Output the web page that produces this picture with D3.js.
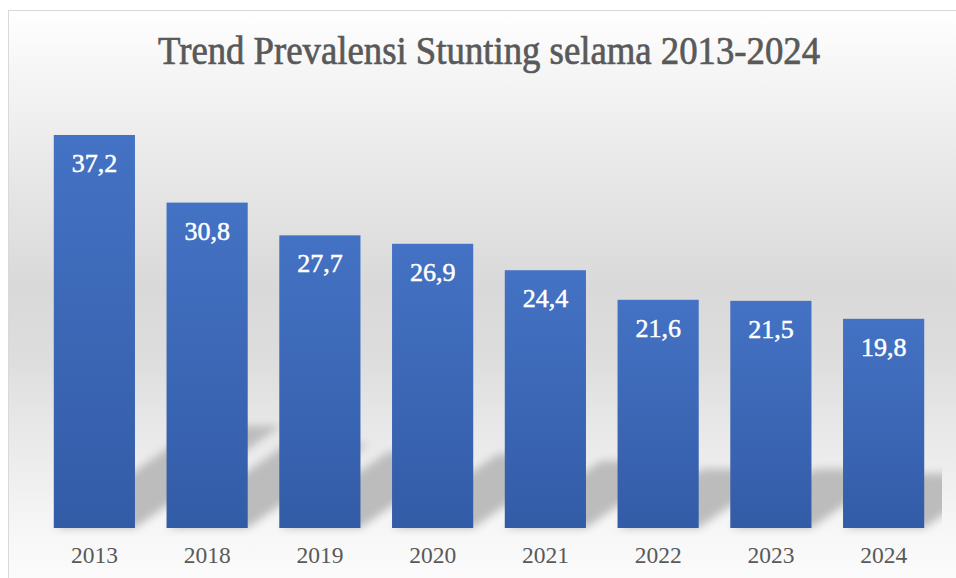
<!DOCTYPE html>
<html>
<head>
<meta charset="utf-8">
<script src="https://cdn.jsdelivr.net/npm/d3@7/dist/d3.min.js"></script>
<style>
  html, body { margin: 0; padding: 0; background: #fff; }
  svg { display: block; }
  .axis text { font-family: "Liberation Serif", serif; font-size: 23.5px; fill: #595959; }
  .axis path, .axis line { display: none; }
</style>
</head>
<body>
<div id="chart"></div>
<script>
// data
const years = ["2013", "2018", "2019", "2020", "2021", "2022", "2023", "2024"];
const values = [37.2, 30.8, 27.7, 26.9, 24.4, 21.6, 21.5, 19.8];
const title = "Trend Prevalensi Stunting selama 2013-2024";

const width = 956, height = 578;
const base = 528;

const svg = d3.select("#chart").append("svg")
  .attr("width", width)
  .attr("height", height);

const defs = svg.append("defs");

// chart background gradient (white - grey - white)
const bg = defs.append("linearGradient")
  .attr("id", "bg-grad")
  .attr("x1", 0).attr("y1", 0).attr("x2", 0).attr("y2", 1);
[[0, "#ffffff"], [0.1, "#f6f6f6"], [0.3, "#e6e6e6"], [0.48, "#d9d9d9"], [0.6, "#dddddd"],
 [0.7, "#e6e6e6"], [0.8, "#eeeeee"], [0.9, "#f7f7f7"], [1, "#fcfcfc"]]
  .forEach(s => bg.append("stop").attr("offset", s[0]).attr("stop-color", s[1]));

// bar gradient
const barGrad = defs.append("linearGradient")
  .attr("id", "bar-grad")
  .attr("x1", 0).attr("y1", 0).attr("x2", 0).attr("y2", 1);
barGrad.append("stop").attr("offset", 0).attr("stop-color", "#4472c4");
barGrad.append("stop").attr("offset", 1).attr("stop-color", "#335ca7");

defs.append("filter")
  .attr("id", "blur")
  .attr("x", "-20%").attr("y", "-20%").attr("width", "140%").attr("height", "140%")
  .append("feGaussianBlur")
  .attr("stdDeviation", 4);

defs.append("clipPath")
  .attr("id", "plot-clip")
  .append("rect")
  .attr("x", 8).attr("y", 10).attr("width", 934).attr("height", 560);

// chart area
svg.append("rect")
  .attr("x", 8.5).attr("y", 10.5)
  .attr("width", width).attr("height", height)
  .attr("fill", "url(#bg-grad)")
  .attr("stroke", "#d9d9d9")
  .attr("stroke-width", 1);

svg.append("text")
  .attr("x", 489)
  .attr("y", 64)
  .attr("text-anchor", "middle")
  .attr("textLength", 662)
  .attr("lengthAdjust", "spacingAndGlyphs")
  .style("font-family", "'Liberation Serif', serif")
  .style("font-size", "40px")
  .style("fill", "#595959")
  .style("stroke", "#595959")
  .style("stroke-width", 0.7)
  .text(title);

const x = d3.scaleBand()
  .domain(years)
  .range([38, 940])
  .paddingInner(0.28)
  .paddingOuter(0.14);

const y = d3.scaleLinear()
  .domain([0, 40])
  .range([base, base - 40 * 10.565]);

// perspective shadows
svg.append("g")
  .attr("clip-path", "url(#plot-clip)")
  .append("g")
  .attr("filter", "url(#blur)")
  .selectAll("path")
  .data(values)
  .join("path")
  .attr("fill", "#bcbcbc")
  .attr("d", (d, i) => {
    const x0 = x(years[i]), x1 = x0 + x.bandwidth();
    const hs = 0.26 * (y(0) - y(d));
    const dx = hs / 0.7;
    return `M${x0},${y(0)}L${x1},${y(0)}L${x1 + dx},${y(0) - hs}L${x0 + dx},${y(0) - hs}Z`;
  });

// bars
svg.append("g")
  .selectAll("rect")
  .data(values)
  .join("rect")
  .attr("x", (d, i) => x(years[i]))
  .attr("y", d => y(d))
  .attr("width", x.bandwidth())
  .attr("height", d => y(0) - y(d))
  .attr("fill", "url(#bar-grad)");

// value labels
svg.append("g")
  .selectAll("text")
  .data(values)
  .join("text")
  .attr("x", (d, i) => x(years[i]) + x.bandwidth() / 2)
  .attr("y", d => y(d) + 37)
  .attr("text-anchor", "middle")
  .style("font-family", "'Liberation Serif', serif")
  .style("font-size", "26px")
  .style("fill", "#ffffff")
  .style("stroke", "#ffffff")
  .style("stroke-width", 0.5)
  .text(d => d.toFixed(1).replace(".", ","));

// category axis
svg.append("g")
  .attr("class", "axis")
  .attr("transform", `translate(0,${base})`)
  .call(d3.axisBottom(x).tickSize(0).tickPadding(18));
</script>
</body>
</html>
